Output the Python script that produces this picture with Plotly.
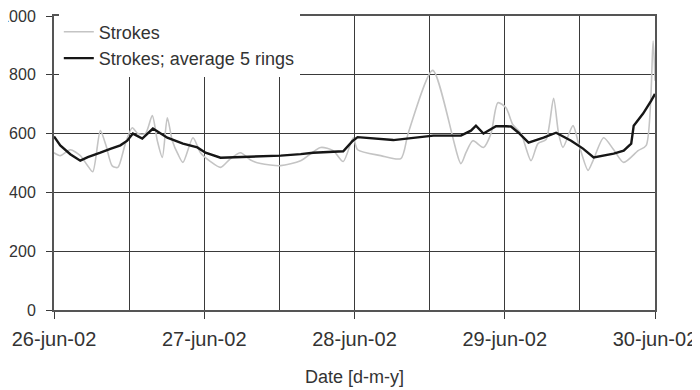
import pandas as pd
import plotly.graph_objects as go

# Hours after 26-jun-02 00:00 and values
raw_hours = [0, 1, 2.6, 4.2, 5.4, 6.2, 7.4, 8.3, 9.3, 10.2, 11.4, 12.5, 13.4, 14.6, 15.7,
             16.5, 17.3, 18.1, 18.9, 19.8, 20.6, 22.2, 23.4, 25, 26.6, 28.2, 29.8, 31.4,
             33, 36.2, 39.4, 42.6, 44.6, 46.2, 47.8, 48.5, 52.2, 55.4, 56.6, 60.5, 65,
             65.8, 66.9, 68.6, 69.8, 70.9, 72.2, 73.3, 74.6, 76.2, 77.3, 78.6, 79.8, 80.6,
             81.3, 82.9, 83.8, 85.3, 86.1, 87.8, 89.4, 91, 93.3, 94.6, 95.7, 96]
raw_values = [535, 525, 545, 525, 490, 470, 610, 560, 490, 485, 566, 620, 600, 600, 661,
              576, 519, 654, 576, 530, 502, 586, 535, 505, 485, 515, 535, 510,
              498, 491, 508, 553, 542, 505, 586, 545, 525, 515, 603, 815, 498,
              535, 576, 553, 600, 705, 688, 630, 600, 508, 566, 580, 720, 600,
              553, 627, 566, 475, 508, 586, 545, 502, 542, 560, 915, 780]

avg_hours = [0, 1, 2.6, 4.2, 5.4, 6.2, 7.4, 9, 10.6, 11.7, 12.6, 14.1, 15.8, 18.1, 20.6,
             22.9, 24.2, 26.6, 29.8, 33, 36.2, 39.4, 41.4, 46.2, 47.7, 48.5, 54.2, 60.6,
             65, 66.6, 67.4, 68.6, 69.8, 70.6, 72.2, 73, 74.2, 75.8, 78.2, 80.2, 82.6,
             84.5, 86.2, 89.4, 91, 92.2, 92.6, 94.1, 95.4, 96]
avg_values = [590, 560, 530, 508, 520, 525, 535, 548, 560, 576, 600, 583, 617, 586, 566,
              553, 535, 518, 520, 522, 525, 530, 535, 540, 575, 588, 578, 593,
              593, 610, 627, 600, 615, 625, 625, 624, 603, 569, 586, 603, 576,
              549, 519, 532, 542, 566, 627, 668, 712, 735]

start = pd.Timestamp("2002-06-26 00:00")
raw_t = start + pd.to_timedelta(raw_hours, unit="h")
avg_t = start + pd.to_timedelta(avg_hours, unit="h")

tick_dates = ["2002-06-26", "2002-06-27", "2002-06-28", "2002-06-29", "2002-06-30"]
tick_labels = ["26-jun-02", "27-jun-02", "28-jun-02", "29-jun-02", "30-jun-02"]
y_ticks = [0, 200, 400, 600, 800, 1000]

FONT = "Liberation Sans, Arial, sans-serif"
GRID = "#3a3a3a"

fig = go.Figure()
fig.add_trace(go.Scatter(x=raw_t, y=raw_values, mode="lines", name="Strokes",
                         line=dict(color="#c4c4c4", width=1.6, shape="spline", smoothing=0.7)))
fig.add_trace(go.Scatter(x=avg_t, y=avg_values, mode="lines",
                         name="Strokes; average 5 rings",
                         line=dict(color="#161616", width=2.4)))

fig.update_layout(
    width=700, height=390,
    margin=dict(l=46, r=53, t=7, b=88),
    paper_bgcolor="white", plot_bgcolor="white",
    font=dict(family=FONT, size=20, color="#333333"),
    showlegend=True,
    legend=dict(x=0.008, y=1.005, xanchor="left", yanchor="top",
                bgcolor="white", borderwidth=0, font=dict(size=18),
                tracegroupgap=0, itemwidth=30),
    xaxis=dict(
        range=[start, start + pd.Timedelta(hours=96)],
        tickmode="array", tickvals=tick_dates, ticktext=tick_labels,
        showgrid=True, gridcolor=GRID, gridwidth=1.4,
        minor=dict(dtick=12 * 3600 * 1000, showgrid=True, gridcolor=GRID, gridwidth=1.4),
        ticks="outside", ticklen=7, tickcolor=GRID, tickwidth=1.4,
        ticklabelstandoff=3,
        showline=True, linecolor="#555555", linewidth=1.6, mirror=True,
        title=dict(text="Date [d-m-y]", standoff=22, font=dict(size=18)),
        zeroline=False, automargin=False,
    ),
    yaxis=dict(
        range=[0, 1000], tickvals=y_ticks, tickfont=dict(size=16),
        showgrid=True, gridcolor=GRID, gridwidth=1.4,
        ticks="outside", ticklen=6, tickcolor=GRID, tickwidth=1.4,
        ticklabelstandoff=7, ticklabeloverflow="allow",
        showline=True, linecolor="#555555", linewidth=2, mirror=True,
        zeroline=False, automargin=False,
    ),
)

fig.write_html("out.html")
